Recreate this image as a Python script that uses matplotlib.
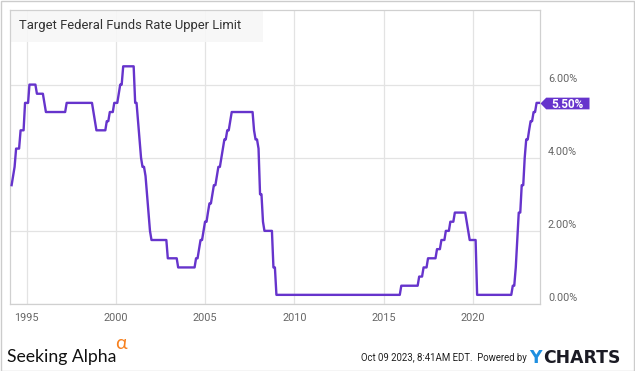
import matplotlib
matplotlib.use("Agg")
import matplotlib.pyplot as plt
from matplotlib import font_manager
from matplotlib.path import Path
from matplotlib.patches import Rectangle
import pandas as pd

# Month-end points of the target rate (upper limit), only where the line bends
months = [
    "1994-02", "1994-03", "1994-04", "1994-05", "1994-07", "1994-08", "1994-10",
    "1994-11", "1995-01", "1995-02", "1995-06", "1995-07", "1995-11", "1995-12",
    "1996-01", "1997-02", "1997-03", "1998-08", "1998-09", "1998-10", "1998-11",
    "1999-05", "1999-06", "1999-07", "1999-08", "1999-10", "1999-11", "2000-01",
    "2000-02", "2000-03", "2000-04", "2000-05", "2000-12", "2001-01", "2001-02",
    "2001-03", "2001-04", "2001-05", "2001-06", "2001-07", "2001-08", "2001-09",
    "2001-10", "2001-11", "2001-12", "2002-10", "2002-11", "2003-05", "2003-06",
    "2004-05", "2004-06", "2004-07", "2004-08", "2004-09", "2004-10", "2004-11",
    "2004-12", "2005-01", "2005-02", "2005-03", "2005-04", "2005-05", "2005-06",
    "2005-07", "2005-08", "2005-09", "2005-10", "2005-11", "2005-12", "2006-01",
    "2006-02", "2006-03", "2006-04", "2006-05", "2006-06", "2007-08", "2007-09",
    "2007-10", "2007-11", "2007-12", "2008-01", "2008-02", "2008-03", "2008-04",
    "2008-09", "2008-10", "2008-11", "2008-12", "2015-11", "2015-12", "2016-11",
    "2016-12", "2017-02", "2017-03", "2017-05", "2017-06", "2017-11", "2017-12",
    "2018-02", "2018-03", "2018-05", "2018-06", "2018-08", "2018-09", "2018-11",
    "2018-12", "2019-07", "2019-08", "2019-09", "2019-10", "2020-02", "2020-03",
    "2022-02", "2022-03", "2022-04", "2022-05", "2022-06", "2022-07", "2022-08",
    "2022-09", "2022-10", "2022-11", "2022-12", "2023-01", "2023-02", "2023-03",
    "2023-04", "2023-05", "2023-06", "2023-07",
]
rates = [
    3.25, 3.5, 3.75, 4.25, 4.25, 4.75, 4.75,
    5.5, 5.5, 6.0, 6.0, 5.75, 5.75, 5.5,
    5.25, 5.25, 5.5, 5.5, 5.25, 5.0, 4.75,
    4.75, 5.0, 5.0, 5.25, 5.25, 5.5, 5.5,
    5.75, 6.0, 6.0, 6.5, 6.5, 5.5, 5.5,
    5.0, 4.5, 4.0, 3.75, 3.75, 3.5, 3.0,
    2.5, 2.0, 1.75, 1.75, 1.25, 1.25, 1.0,
    1.0, 1.25, 1.25, 1.5, 1.75, 1.75, 2.0,
    2.25, 2.25, 2.5, 2.75, 2.75, 3.0, 3.25,
    3.25, 3.5, 3.75, 3.75, 4.0, 4.25, 4.5,
    4.5, 4.75, 4.75, 5.0, 5.25, 5.25, 4.75,
    4.5, 4.5, 4.25, 3.0, 3.0, 2.25, 2.0,
    2.0, 1.0, 1.0, 0.25, 0.25, 0.5, 0.5,
    0.75, 0.75, 1.0, 1.0, 1.25, 1.25, 1.5,
    1.5, 1.75, 1.75, 2.0, 2.0, 2.25, 2.25,
    2.5, 2.5, 2.25, 2.0, 1.75, 1.75, 0.25,
    0.25, 0.5, 0.5, 1.0, 1.75, 2.5, 2.5,
    3.25, 3.25, 4.0, 4.5, 4.5, 4.75, 5.0,
    5.0, 5.25, 5.25, 5.5,
]
as_of = "2023-10-09"
start = "1994-01-26"
title = "Target Federal Funds Rate Upper Limit"
y_ticks = [0, 2, 4, 6]
x_years = [1995, 2000, 2005, 2010, 2015, 2020]

purple = "#6634cc"
grid_col = "#e3e3e3"
tick_col = "#666666"

# no condensed face is installed, so the narrow texts use Roboto a bit smaller
installed = {f.name for f in font_manager.fontManager.ttflist}
narrow = "Liberation Sans Narrow" if "Liberation Sans Narrow" in installed else "Roboto"
title_size = 11.4 if narrow != "Roboto" else 9.4
stamp_size = 8.4 if narrow != "Roboto" else 6.9

dates = list(pd.to_datetime(months) + pd.offsets.MonthEnd(0)) + [pd.Timestamp(as_of)]
values = rates + [rates[-1]]

W, H = 635, 371
fig = plt.figure(figsize=(W / 100, H / 100), dpi=100)
fig.patches.append(Rectangle((0.5 / W, 0.5 / H), 1 - 1.5 / W, 1 - 1.5 / H,
                             transform=fig.transFigure, fill=False,
                             ec="#cccccc", lw=1.0))

ax = fig.add_axes([10 / W, 67 / H, 530 / W, 294 / H])
ax.set_axisbelow(True)
ax.plot(dates, values, color=purple, lw=1.7, solid_joinstyle="round", zorder=3)

ax.set_xlim(pd.Timestamp(start), pd.Timestamp(as_of))
ax.set_ylim(0, 8.04)
ax.set_xticks([pd.Timestamp(f"{y}-01-01") for y in x_years])
ax.set_xticklabels([str(y) for y in x_years])
ax.set_yticks(y_ticks)
ax.tick_params(axis="x", length=0, pad=6.5, labelsize=7.8, labelcolor=tick_col)
ax.tick_params(axis="y", length=0, labelleft=False)
for lbl in ax.get_xticklabels():
    lbl.set_fontfamily("Roboto")
ax.grid(True, color=grid_col, lw=0.9)
for side in ["left", "right", "top", "bottom"]:
    ax.spines[side].set_color("#d0d0d0")
    ax.spines[side].set_linewidth(0.9)

for v in y_ticks:
    ax.annotate(f"{v:.2f}%", xy=(1, v), xycoords=("axes fraction", "data"),
                xytext=(8, 3), textcoords="offset pixels", va="baseline",
                ha="left", fontsize=7.8, color=tick_col, family="Roboto",
                annotation_clip=False)

# title box in the upper left of the plot area
ax.add_patch(Rectangle((0, 262 / 294), 253 / 530, 32 / 294, transform=ax.transAxes,
                       fc="#f7f7f7", ec="none", alpha=0.9, zorder=1))
ax.text(9 / 530, 278 / 294, title, transform=ax.transAxes, va="center", ha="left",
        fontsize=title_size, color="#333333", family=narrow, zorder=4)

# last value tag
tag_w, tag_h, tip = 49, 11.7, 5.7
tag_path = Path([(0, 0), (tip, tag_h / 2), (tag_w, tag_h / 2), (tag_w, -tag_h / 2),
                 (tip, -tag_h / 2), (0, 0)], closed=True)
ax.plot([dates[-1]], [values[-1]], marker=tag_path, ms=2 * tag_w * 0.72,
        color=purple, mec="none", clip_on=False, zorder=5)
ax.annotate(f"{values[-1]:.2f}%", xy=(dates[-1], values[-1]),
            xytext=(tip + (tag_w - tip) / 2, 0), textcoords="offset pixels",
            ha="center", va="center_baseline", fontsize=8.5, fontweight="bold",
            color="white", family="Roboto", annotation_clip=False, zorder=6)

# footer
fig.text(7.3 / W, (H - 361.7) / H, "Seeking Alpha", ha="left", va="baseline",
         fontsize=12.7, family="Lato", color="#111111")
fig.text(115 / W, (H - 349) / H, "\u03b1", ha="left", va="baseline",
         fontsize=14, family=["Lato", "DejaVu Sans"], color="#f7801e")
fig.text(526.7 / W, (H - 357.7) / H, "Oct 09 2023, 8:41AM EDT.  Powered by",
         ha="right", va="center", fontsize=stamp_size, family=narrow, color="#222222")
fig.text(529.3 / W, (H - 363.3) / H, "Y", ha="left", va="baseline",
         fontsize=12.4, fontweight="bold", family="DejaVu Sans", color="#1e8fe0")
fig.text(543 / W, (H - 363.3) / H, "CHARTS", ha="left", va="baseline",
         fontsize=12.4, fontweight="bold", family="DejaVu Sans", color="#1b1b24")

fig.savefig("out.png", dpi=100)
